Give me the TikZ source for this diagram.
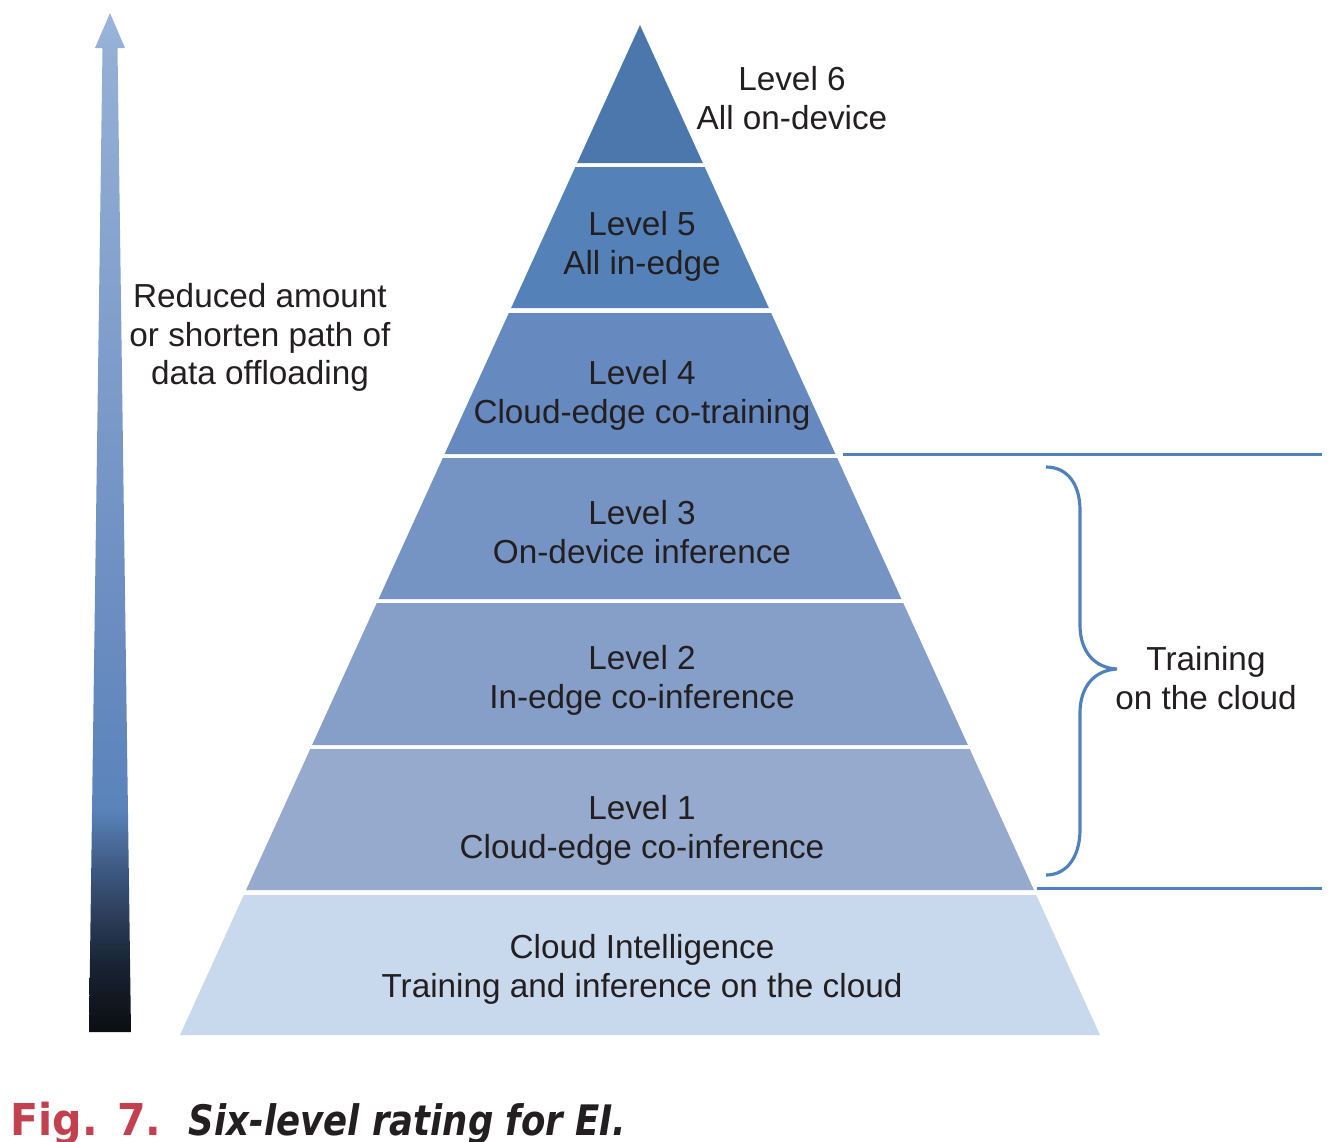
\documentclass[tikz,border=0pt]{standalone}
\usepackage{fontspec}
\setmainfont{Liberation Sans}
\newfontfamily\capfont{DejaVu Sans}

\definecolor{lvlsix}{HTML}{4B77AC}
\definecolor{lvlfive}{HTML}{5581B9}
\definecolor{lvlfour}{HTML}{6689BF}
\definecolor{lvlthree}{HTML}{7594C4}
\definecolor{lvltwo}{HTML}{859FC9}
\definecolor{lvlone}{HTML}{95AACD}
\definecolor{lvlcloud}{HTML}{C8D9EE}
\definecolor{lineblue}{HTML}{4F81BD}
\definecolor{textgray}{HTML}{231F20}
\definecolor{capred}{HTML}{C3414F}
\definecolor{arrowa}{HTML}{0C0E11}
\definecolor{arrowb}{HTML}{172232}
\definecolor{arrowc}{HTML}{2B3C58}
\definecolor{arrowd}{HTML}{3F5A83}
\definecolor{arrowe}{HTML}{5A84BC}
\definecolor{arrowf}{HTML}{6A8CC0}
\definecolor{arrowg}{HTML}{95B0D6}
\definecolor{arrowh}{HTML}{9AB6DB}

\pgfdeclareverticalshading{offload}{100bp}{color(0bp)=(arrowa); color(25bp)=(arrowa); color(28.2bp)=(arrowb); color(30.6bp)=(arrowc); color(33.1bp)=(arrowd); color(36bp)=(arrowe); color(44.6bp)=(arrowf); color(73.3bp)=(arrowg); color(75bp)=(arrowh); color(100bp)=(arrowh)}

\begin{document}
\begin{tikzpicture}[x=0.01cm,y=-0.01cm]
\tikzstyle{every node}+=[inner sep=0pt, text=textgray]
\tikzstyle{lvl}=[align=center, font=\fontsize{9.47}{11}\selectfont, execute at begin node=\strut, execute at end node=\strut]
\useasboundingbox (0,0) rectangle (1341,1141);
% shaded arrow on the left
\shade [shading=offload] (89,1032) -- (131,1032) -- (117.5,48) -- (125,48) -- (110,13) -- (95,48) -- (102.5,48) -- cycle;
% pyramid bands
\foreach \tp/\bt/\col in {25/163/lvlsix, 167/308/lvlfive, 313/454/lvlfour, 458/599/lvlthree, 603/745/lvltwo, 749/890/lvlone, 895/1035/lvlcloud}
{
  \fill [\col] ({640-(\tp-25)*0.45545},\tp) -- ({640+(\tp-25)*0.45545},\tp) -- ({640+(\bt-25)*0.45545},\bt) -- ({640-(\bt-25)*0.45545},\bt) -- cycle;
}
% level labels
\node [lvl] (six) at (792,104) {Level 6\\All on-device};
\node [lvl] (five) at (642,249) {Level 5\\All in-edge};
\node [lvl] (four) at (642,398) {Level 4\\Cloud-edge co-training};
\node [lvl] (three) at (642,537.5) {Level 3\\On-device inference};
\node [lvl] (two) at (642,683) {Level 2\\In-edge co-inference};
\node [lvl] (one) at (642,832.5) {Level 1\\Cloud-edge co-inference};
\node [lvl] (cloud) at (642,971.5) {Cloud Intelligence\\Training and inference on the cloud};
\node [lvl] (offload) at (260,340) {Reduced amount\\or shorten path of\\data offloading};
\node [lvl] (train) at (1206,683.5) {Training\\on the cloud};
% separators and brace
\draw [lineblue, line width=0.85pt] (843,454) -- (1322,454);
\draw [lineblue, line width=0.85pt] (1037,888) -- (1322,888);
\draw [lineblue, line width=0.9pt] (1046,467) .. controls (1068,467) and (1080,485) .. (1080,510) -- (1080,625) .. controls (1080,652) and (1095,668) .. (1117,669) .. controls (1095,670) and (1080,686) .. (1080,713) -- (1080,830) .. controls (1080,855) and (1068,875) .. (1046,875);
% caption
\node [anchor=base west, text=capred, font=\capfont\fontsize{12.5}{15}\selectfont\bfseries] (fig) at (10,1135) {\scalebox{0.936}[1]{Fig. 7.}};
\node [anchor=base west, font=\capfont\fontsize{11.95}{15}\selectfont\bfseries\itshape] (title) at (188,1135) {\scalebox{0.845}[1]{Six-level rating for EI.}};
\end{tikzpicture}
\end{document}
